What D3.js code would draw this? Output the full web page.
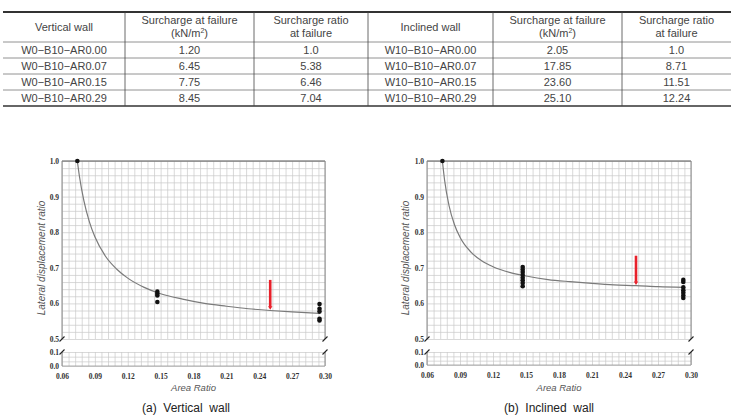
<!DOCTYPE html>
<html>
<head>
<meta charset="utf-8">
<script src="https://cdn.jsdelivr.net/npm/d3@7"></script>
<style>
  body { margin: 0; background: #fff; }
  svg { display: block; }
  .tbl { font-family: "Liberation Sans", Arial, sans-serif; font-size: 11px; fill: #444; }
  .tick text { font-family: "Liberation Serif", "Times New Roman", serif; font-weight: bold; font-size: 7.5px; fill: #333; }
  .axlab { font-family: "Liberation Sans", Arial, sans-serif; font-style: italic; fill: #555; }
  .cap { font-family: "Liberation Sans", Arial, sans-serif; font-size: 12px; fill: #222; white-space: pre; }
</style>
</head>
<body>
<div id="container"></div>
<script>
/* CONSTANTS AND GLOBALS */
const width = 731;
const height = 418;

/* DATA */
// table
const tableHeaders = ["Vertical wall", "Surcharge at failure|(kN/m^2)", "Surcharge ratio|at failure",
  "Inclined wall", "Surcharge at failure|(kN/m^2)", "Surcharge ratio|at failure"];
const verticalSpecimens = ["W0\u2212B10\u2212AR0.00", "W0\u2212B10\u2212AR0.07", "W0\u2212B10\u2212AR0.15", "W0\u2212B10\u2212AR0.29"];
const verticalSurcharge = ["1.20", "6.45", "7.75", "8.45"];
const verticalRatio = ["1.0", "5.38", "6.46", "7.04"];
const inclinedSpecimens = ["W10\u2212B10\u2212AR0.00", "W10\u2212B10\u2212AR0.07", "W10\u2212B10\u2212AR0.15", "W10\u2212B10\u2212AR0.29"];
const inclinedSurcharge = ["2.05", "17.85", "23.60", "25.10"];
const inclinedRatio = ["1.0", "8.71", "11.51", "12.24"];

// charts
const areaTicks = [0.06, 0.09, 0.12, 0.15, 0.18, 0.21, 0.24, 0.27, 0.30];
const ratioTicksUpper = [0.5, 0.6, 0.7, 0.8, 0.9, 1.0];
const ratioTicksLower = [0.0, 0.1];

// (a) vertical wall
const vertCurveX = [0.074, 0.076, 0.08, 0.085, 0.09, 0.10, 0.11, 0.12, 0.135, 0.15, 0.17, 0.19, 0.21, 0.23, 0.25, 0.27, 0.295];
const vertCurveY = [1.0, 0.955, 0.888, 0.829, 0.787, 0.731, 0.696, 0.671, 0.645, 0.627, 0.612, 0.600, 0.592, 0.585, 0.580, 0.576, 0.572];
const vertPointsX = [0.074, 0.147, 0.147, 0.147, 0.147, 0.295, 0.295, 0.295, 0.295, 0.295];
const vertPointsY = [1.0, 0.633, 0.627, 0.622, 0.604, 0.598, 0.585, 0.577, 0.557, 0.552];
const vertArrow = { x: 0.25, top: 0.666, bottom: 0.582 };

// (b) inclined wall
const inclCurveX = [0.074, 0.076, 0.08, 0.085, 0.09, 0.10, 0.11, 0.12, 0.135, 0.15, 0.17, 0.19, 0.21, 0.23, 0.25, 0.27, 0.293];
const inclCurveY = [1.0, 0.946, 0.875, 0.821, 0.786, 0.744, 0.719, 0.703, 0.687, 0.677, 0.667, 0.661, 0.656, 0.652, 0.650, 0.647, 0.645];
const inclPointsX = [0.074, 0.147, 0.147, 0.147, 0.147, 0.147, 0.147, 0.147, 0.147,
  0.293, 0.293, 0.293, 0.293, 0.293, 0.293, 0.293];
const inclPointsY = [1.0, 0.702, 0.695, 0.688, 0.680, 0.672, 0.665, 0.657, 0.648,
  0.666, 0.660, 0.645, 0.637, 0.630, 0.622, 0.615];
const inclArrow = { x: 0.25, top: 0.734, bottom: 0.652 };

const svg = d3.select("#container").append("svg")
  .attr("width", width)
  .attr("height", height);

/* TABLE */
const colEdges = [3, 125, 254, 368, 493, 622, 731];
const headTop = 12, headBottom = 42, rowH = 16;
const columns = [verticalSpecimens, verticalSurcharge, verticalRatio, inclinedSpecimens, inclinedSurcharge, inclinedRatio];
const tableBottom = headBottom + rowH * verticalSpecimens.length;

const tbl = svg.append("g").attr("class", "tbl");

// horizontal rules
tbl.append("line").attr("x1", colEdges[0]).attr("x2", width).attr("y1", headTop).attr("y2", headTop)
  .attr("stroke", "#333").attr("stroke-width", 2);
tbl.append("line").attr("x1", colEdges[0]).attr("x2", width).attr("y1", tableBottom).attr("y2", tableBottom)
  .attr("stroke", "#333").attr("stroke-width", 1.6);
d3.range(verticalSpecimens.length).forEach(i => {
  const y = headBottom + i * rowH;
  tbl.append("line").attr("x1", colEdges[0]).attr("x2", width).attr("y1", y).attr("y2", y)
    .attr("stroke", "#777").attr("stroke-width", 0.8);
});
// vertical rules
colEdges.slice(1, -1).forEach(x => {
  tbl.append("line").attr("x1", x).attr("x2", x).attr("y1", headTop).attr("y2", tableBottom)
    .attr("stroke", "#444").attr("stroke-width", 0.8);
});

// header text
tableHeaders.forEach((h, i) => {
  const cx = (colEdges[i] + colEdges[i + 1]) / 2;
  const lines = h.split("|");
  if (lines.length === 1) {
    tbl.append("text").attr("x", cx).attr("y", 31).attr("text-anchor", "middle").text(lines[0]);
  } else {
    tbl.append("text").attr("x", cx).attr("y", 24).attr("text-anchor", "middle").text(lines[0]);
    const t = tbl.append("text").attr("x", cx).attr("y", 37).attr("text-anchor", "middle");
    if (lines[1].includes("^")) {
      const [a, b] = lines[1].split("^");
      t.append("tspan").text(a);
      t.append("tspan").attr("dy", -4).attr("font-size", 7).text(b[0]);
      t.append("tspan").attr("dy", 4).text(b.slice(1));
    } else {
      t.text(lines[1]);
    }
  }
});

// body text
columns.forEach((col, i) => {
  const cx = (colEdges[i] + colEdges[i + 1]) / 2;
  tbl.selectAll(null).data(col).join("text")
    .attr("x", cx)
    .attr("y", (d, j) => headBottom + j * rowH + 12)
    .attr("text-anchor", "middle")
    .text(d => d);
});

/* CHARTS */
function drawChart(p) {
  const g = svg.append("g");
  const x = d3.scaleLinear().domain([0.06, 0.30]).range([p.x0, p.x1]);
  const yUp = d3.scaleLinear().domain([0.5, 1.0]).range([p.yBreak, p.yTop]);
  const yLow = d3.scaleLinear().domain([0, 0.1]).range([p.yLowBot, p.yLowTop]);

  const minorX = d3.range(41).map(i => 0.06 + i * 0.006);
  const minorYUp = d3.range(26).map(i => 0.5 + i * 0.02);
  const minorYLow = d3.range(4).map(i => i * 0.1 / 3);

  // grid upper
  g.append("g").attr("transform", `translate(0,${p.yBreak})`)
    .call(d3.axisBottom(x).tickValues(minorX).tickSize(p.yTop - p.yBreak).tickFormat(""))
    .call(a => a.select(".domain").remove())
    .call(a => a.selectAll("line").attr("stroke", "#c8c8c8").attr("stroke-width", 0.7));
  g.append("g").attr("transform", `translate(${p.x0},0)`)
    .call(d3.axisRight(yUp).tickValues(minorYUp).tickSize(p.x1 - p.x0).tickFormat(""))
    .call(a => a.select(".domain").remove())
    .call(a => a.selectAll("line").attr("stroke", "#c8c8c8").attr("stroke-width", 0.7));
  // grid lower
  g.append("g").attr("transform", `translate(0,${p.yLowBot})`)
    .call(d3.axisBottom(x).tickValues(minorX).tickSize(p.yLowTop - p.yLowBot).tickFormat(""))
    .call(a => a.select(".domain").remove())
    .call(a => a.selectAll("line").attr("stroke", "#c8c8c8").attr("stroke-width", 0.7));
  g.append("g").attr("transform", `translate(${p.x0},0)`)
    .call(d3.axisRight(yLow).tickValues(minorYLow).tickSize(p.x1 - p.x0).tickFormat(""))
    .call(a => a.select(".domain").remove())
    .call(a => a.selectAll("line").attr("stroke", "#c8c8c8").attr("stroke-width", 0.7));

  // frame lines
  g.append("line").attr("x1", p.x0).attr("x2", p.x1).attr("y1", p.yTop).attr("y2", p.yTop)
    .attr("stroke", "#555").attr("stroke-width", 1);
  [p.x0, p.x1].forEach(xx => {
    g.append("line").attr("x1", xx).attr("x2", xx).attr("y1", p.yTop).attr("y2", p.yBreak)
      .attr("stroke", "#888").attr("stroke-width", 1);
    g.append("line").attr("x1", xx).attr("x2", xx).attr("y1", p.yLowTop).attr("y2", p.yLowBot)
      .attr("stroke", "#888").attr("stroke-width", 1);
  });
  g.append("line").attr("x1", p.x0).attr("x2", p.x1).attr("y1", p.yLowBot).attr("y2", p.yLowBot)
    .attr("stroke", "#999").attr("stroke-width", 0.8);

  // break marks
  [[p.x0, p.yBreak], [p.x1, p.yBreak], [p.x0, p.yLowTop], [p.x1, p.yLowTop]].forEach(([bx, by]) => {
    g.append("line").attr("x1", bx - 2.5).attr("y1", by + 2.5).attr("x2", bx + 2.5).attr("y2", by - 2.5)
      .attr("stroke", "#222").attr("stroke-width", 1.1);
  });

  // tick labels
  g.append("g").attr("transform", `translate(0,${p.yLowBot})`)
    .call(d3.axisBottom(x).tickValues(areaTicks).tickSize(0).tickPadding(8).tickFormat(d3.format(".2f")))
    .call(a => a.select(".domain").remove());
  g.append("g").attr("transform", `translate(${p.x0},0)`)
    .call(d3.axisLeft(yUp).tickValues(ratioTicksUpper).tickSize(0).tickPadding(3).tickFormat(d3.format(".1f")))
    .call(a => a.select(".domain").remove());
  g.append("g").attr("transform", `translate(${p.x0},0)`)
    .call(d3.axisLeft(yLow).tickValues(ratioTicksLower).tickSize(0).tickPadding(3).tickFormat(d3.format(".1f")))
    .call(a => a.select(".domain").remove());

  // axis titles
  g.append("text").attr("class", "axlab").attr("font-size", 9.5)
    .attr("x", (p.x0 + p.x1) / 2).attr("y", 391).attr("text-anchor", "middle").text("Area Ratio");
  g.append("text").attr("class", "axlab").attr("font-size", 10)
    .attr("transform", `translate(${p.yLabX},${p.yLabY}) rotate(-90)`)
    .attr("text-anchor", "middle").text("Lateral displacement ratio");

  // fitted curve
  const curveData = p.curveX.map((v, i) => ({ x: v, y: p.curveY[i] }));
  g.append("path").datum(curveData)
    .attr("fill", "none").attr("stroke", "#7a7a7a").attr("stroke-width", 1.2)
    .attr("d", d3.line().x(d => x(d.x)).y(d => yUp(d.y)).curve(d3.curveMonotoneX));

  // red arrow
  const ax = x(p.arrow.x);
  g.append("line").attr("x1", ax).attr("x2", ax)
    .attr("y1", yUp(p.arrow.top)).attr("y2", yUp(p.arrow.bottom) - 3)
    .attr("stroke", "#e8202a").attr("stroke-width", 2.6);
  g.append("path")
    .attr("d", `M${ax - 2.2},${yUp(p.arrow.bottom) - 3.5} L${ax + 2.2},${yUp(p.arrow.bottom) - 3.5} L${ax},${yUp(p.arrow.bottom)} Z`)
    .attr("fill", "#e8202a");

  // measured points
  const pts = p.ptsX.map((v, i) => ({ x: v, y: p.ptsY[i] }));
  g.selectAll("circle.pt").data(pts).join("circle")
    .attr("class", "pt")
    .attr("cx", d => x(d.x)).attr("cy", d => yUp(d.y))
    .attr("r", 2.3).attr("fill", "#111");

  // caption
  g.append("text").attr("class", "cap").attr("x", p.capX).attr("y", 412)
    .attr("text-anchor", "middle").text(p.caption);
}

drawChart({
  x0: 62, x1: 325, yTop: 161, yBreak: 339, yLowTop: 352, yLowBot: 366,
  yLabX: 45, yLabY: 258, capX: 186,
  curveX: vertCurveX, curveY: vertCurveY, ptsX: vertPointsX, ptsY: vertPointsY,
  arrow: vertArrow, caption: "(a)  Vertical  wall"
});
drawChart({
  x0: 427, x1: 691, yTop: 161, yBreak: 339, yLowTop: 352, yLowBot: 365,
  yLabX: 409, yLabY: 258, capX: 549,
  curveX: inclCurveX, curveY: inclCurveY, ptsX: inclPointsX, ptsY: inclPointsY,
  arrow: inclArrow, caption: "(b)  Inclined  wall"
});
</script>
</body>
</html>
